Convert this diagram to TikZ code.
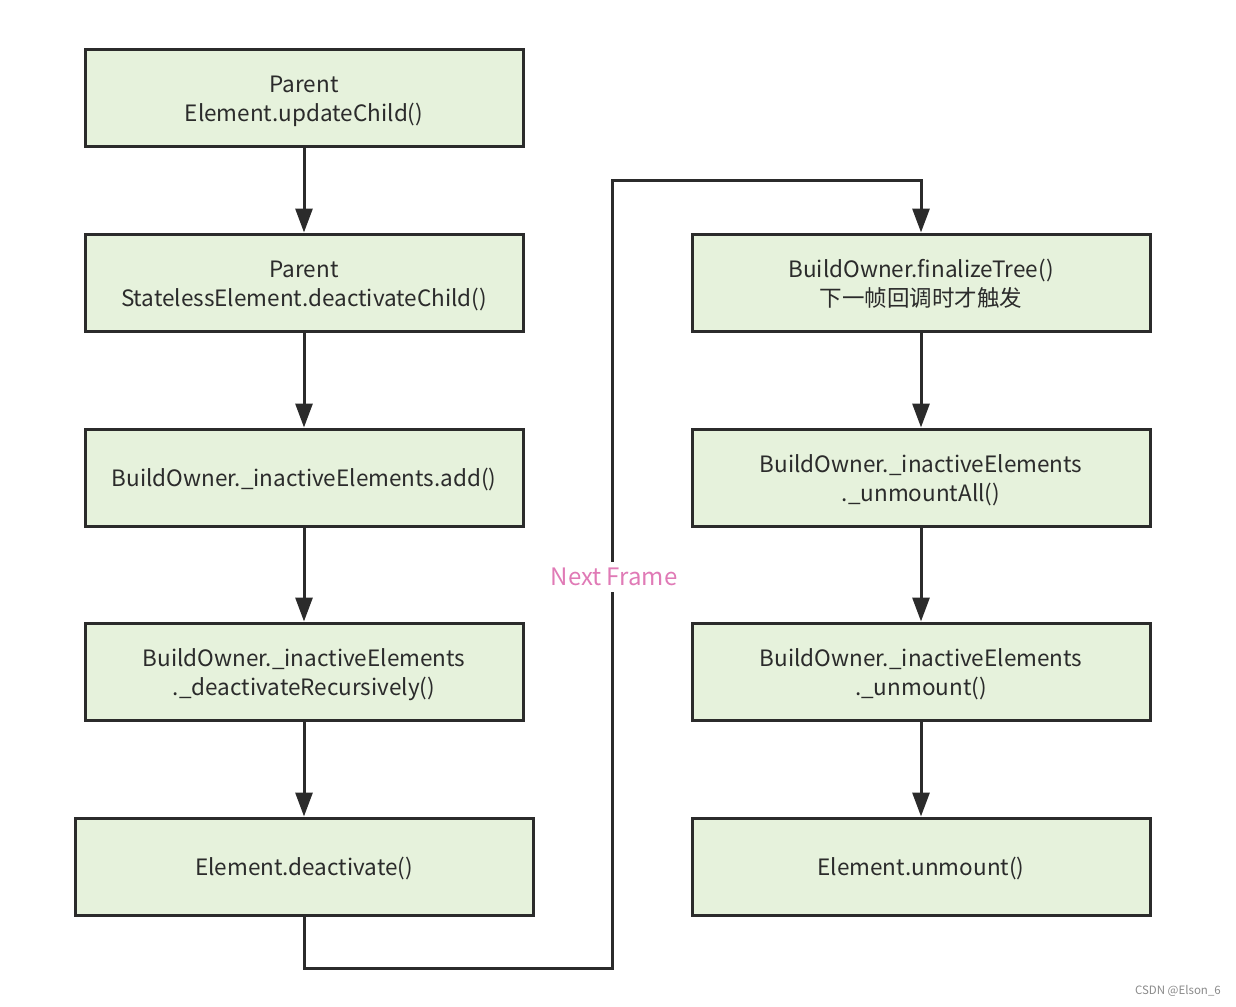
\documentclass[tikz,border=0pt]{standalone}
\usepackage{fontspec}
\setmainfont{Noto Sans CJK SC}
\usetikzlibrary{arrows.meta}
\definecolor{boxfill}{HTML}{E6F2DC}
\definecolor{boxline}{HTML}{2B2B2B}
\definecolor{pinktxt}{HTML}{E07AB6}
\definecolor{wm}{HTML}{8A8A8A}
\newcommand{\bxt}[1]{\raisebox{-3.5pt}[\height][\depth]{\begin{tabular}{@{}c@{}}#1\end{tabular}}}
\begin{document}
\begin{tikzpicture}[x=1pt,y=-1pt,
  box/.style={draw=boxline,line width=3pt,fill=boxfill,minimum height=97pt,
    align=center,font=\fontsize{22.5}{29}\selectfont,text=boxline,inner sep=0pt},
  wbox/.style={box,minimum width=438pt},
  xbox/.style={box,minimum width=458pt},
  conn/.style={draw=boxline,line width=3pt},
  arr/.style={conn,-{Triangle[length=24pt,width=17pt]}}]
\useasboundingbox (0,0) rectangle (1236,1006);
\node[wbox] (a1) at (304,98) {\bxt{Parent\\Element.updateChild()}};
\node[wbox] (a2) at (304,282.5) {\bxt{Parent\\StatelessElement.deactivateChild()}};
\node[wbox] (a3) at (304,477.5) {\bxt{BuildOwner.\_inactiveElements.add()}};
\node[wbox] (a4) at (304,671.5) {\bxt{BuildOwner.\_inactiveElements\\.\_deactivateRecursively()}};
\node[xbox] (a5) at (304,866.5) {\bxt{Element.deactivate()}};
\node[xbox] (b1) at (921,282.5) {\bxt{BuildOwner.finalizeTree()\\下一帧回调时才触发}};
\node[xbox] (b2) at (921,477.5) {\bxt{BuildOwner.\_inactiveElements\\.\_unmountAll()}};
\node[xbox] (b3) at (921,671.5) {\bxt{BuildOwner.\_inactiveElements\\.\_unmount()}};
\node[xbox] (b4) at (921,866.5) {\bxt{Element.unmount()}};
\draw[arr] (a1) -- (a2);
\draw[arr] (a2) -- (a3);
\draw[arr] (a3) -- (a4);
\draw[arr] (a4) -- (a5);
\draw[arr] (b1) -- (b2);
\draw[arr] (b2) -- (b3);
\draw[arr] (b3) -- (b4);
\coordinate (c1) at (304,968);
\coordinate (c2) at (612,968);
\coordinate (c3) at (612,180);
\coordinate (c4) at (921,180);
\draw[arr,line join=miter] (a5.south) -- (c1) -- (c2) -- (c3) -- (c4) -- (b1.north);
\node[fill=white,inner xsep=1pt,inner ysep=6pt,text=pinktxt,font=\fontsize{24}{28}\selectfont] (nf) at (614,577) {Next Frame};
\node[text=wm,font=\fontsize{11.5}{13}\selectfont,anchor=east,inner sep=0pt] (wmk) at (1221,991) {CSDN @Elson\_6};
\end{tikzpicture}
\end{document}
